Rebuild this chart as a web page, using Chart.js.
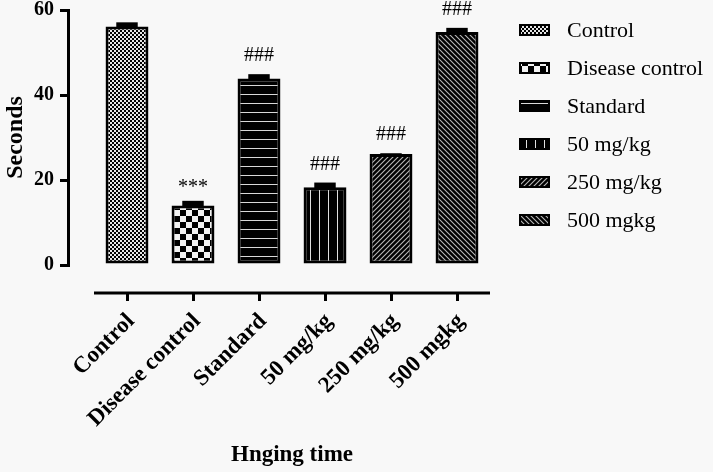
<!DOCTYPE html>
<html><head><meta charset="utf-8">
<script src="https://cdn.jsdelivr.net/npm/chart.js@4/dist/chart.umd.min.js"></script>
<style>html,body{margin:0;padding:0;background:#f8f8f8;} #wrap{width:713px;height:472px;position:relative;}</style>
</head><body><div id="wrap"><canvas id="c" width="713" height="472"></canvas></div>
<script>
const categories = ["Control", "Disease control", "Standard", "50 mg/kg", "250 mg/kg", "500 mgkg"];
const seconds = [56.1, 14.0, 43.9, 18.3, 26.1, 54.8];
const sem = [1.0, 1.1, 1.0, 1.1, 0.2, 1.0];
const significance = ["", "***", "###", "###", "###", "###"];
const yTicks = [0, 20, 40, 60];
const xTitle = "Hnging time";
const yTitle = "Seconds";

const SERIF = '"Liberation Serif", "Times New Roman", serif';

function makePattern(kind) {
  const c = document.createElement('canvas');
  const g = c.getContext('2d');
  let w = 4, h = 4;
  if (kind === 0) { w = 4; h = 4; }
  else if (kind === 1) { w = 12; h = 12; }
  else if (kind === 2) { w = 4; h = 9; }
  else if (kind === 3) { w = 9; h = 4; }
  else { w = 5; h = 5; }
  c.width = w; c.height = h;
  g.fillStyle = '#000'; g.fillRect(0, 0, w, h);
  if (kind === 0) {
    g.fillStyle = '#e6e6e6'; g.fillRect(0, 0, 2, 2); g.fillRect(2, 2, 2, 2);
  } else if (kind === 1) {
    g.fillStyle = '#f2f2f2'; g.fillRect(0, 0, 6, 6); g.fillRect(6, 6, 6, 6);
  } else if (kind === 2) {
    g.fillStyle = '#d8d8d8'; g.fillRect(0, 4, w, 1);
  } else if (kind === 3) {
    g.fillStyle = '#e0e0e0'; g.fillRect(4, 0, 1, h);
  } else {
    g.strokeStyle = '#b8b8b8'; g.lineWidth = 1.1;
    g.beginPath();
    if (kind === 4) {
      g.moveTo(-w, 2 * h); g.lineTo(2 * w, -h);
      g.moveTo(-w, h); g.lineTo(w, -h);
      g.moveTo(0, 2 * h); g.lineTo(2 * w, 0);
    } else {
      g.moveTo(-w, -h); g.lineTo(2 * w, 2 * h);
      g.moveTo(-w, 0); g.lineTo(w, 2 * h);
      g.moveTo(0, -h); g.lineTo(2 * w, h);
    }
    g.stroke();
  }
  return g.createPattern(c, 'repeat');
}
const patterns = categories.map((_, i) => makePattern(i));

const decor = {
  id: 'decor',
  afterDatasetsDraw(chart) {
    const { ctx, scales: { x, y }, chartArea } = chart;
    const meta = chart.getDatasetMeta(0);
    ctx.save();
    meta.data.forEach((bar, i) => {
      const top = y.getPixelForValue(seconds[i]);
      const eTop = y.getPixelForValue(seconds[i] + sem[i]);
      const w = bar.width * 0.5;
      ctx.fillStyle = '#000';
      ctx.fillRect(bar.x - w / 2, eTop, w, top - eTop + 1);
      if (significance[i]) {
        ctx.font = '20px ' + SERIF;
        ctx.textAlign = 'center';
        ctx.textBaseline = 'alphabetic';
        ctx.fillText(significance[i], bar.x, eTop - (significance[i] === '***' ? 8 : 13));
      }
    });
    // offset x axis line
    const ay = chartArea.bottom + 28;
    ctx.strokeStyle = '#000'; ctx.lineWidth = 3; ctx.lineCap = 'butt';
    ctx.beginPath();
    const xl = x.getPixelForValue(-0.5), xr = x.getPixelForValue(categories.length - 0.5);
    ctx.moveTo(xl, ay); ctx.lineTo(xr, ay);
    categories.forEach((_, i) => {
      const px = Math.round(x.getPixelForValue(i)) + 0.5;
      ctx.moveTo(px, ay); ctx.lineTo(px, ay + 8);
    });
    ctx.stroke();
    // x title
    ctx.fillStyle = '#000';
    ctx.font = 'bold 23px ' + SERIF;
    ctx.textAlign = 'center'; ctx.textBaseline = 'middle';
    ctx.fillText(xTitle, (xl + xr) / 2, 455);
    // legend
    const lx = 519, ly0 = 30, step = 38;
    categories.forEach((name, i) => {
      const cy = ly0 + i * step;
      ctx.fillStyle = '#000';
      ctx.fillRect(lx, cy - 6, 31, 12);
      ctx.fillStyle = patterns[i];
      ctx.fillRect(lx + 2, cy - 4, 27, 8);
      ctx.fillStyle = '#000';
      ctx.font = '22px ' + SERIF;
      ctx.textAlign = 'left'; ctx.textBaseline = 'middle';
      ctx.fillText(name, 567, cy + 1);
    });
    ctx.restore();
  }
};

new Chart(document.getElementById('c'), {
  type: 'bar',
  data: {
    datasets: [{
      data: categories.map((c, i) => ({ x: i, y: seconds[i] })),
      backgroundColor: patterns,
      borderColor: '#000',
      borderWidth: 3,
      borderSkipped: false,
      barPercentage: 0.65,
      categoryPercentage: 1
    }]
  },
  options: {
    responsive: false,
    animation: false,
    devicePixelRatio: 1,
    layout: { padding: { top: 10, right: 223, left: 0, bottom: 0 } },
    plugins: { legend: { display: false }, tooltip: { enabled: false } },
    scales: {
      x: {
        type: 'linear',
        offset: false,
        min: -0.894, max: 5.5,
        afterBuildTicks: s => { s.ticks = categories.map((_, i) => ({ value: i })); },
        afterFit: s => { s.height = 207; s.paddingLeft = 0; s.paddingRight = 0; },
        grid: { display: false, offset: false },
        border: { display: false },
        ticks: {
          autoSkip: false, maxRotation: 45, minRotation: 45, padding: 35, labelOffset: 4,
          color: '#000', font: { family: SERIF, size: 23, weight: 'bold' },
          callback: v => categories[v]
        }
      },
      y: {
        min: 0, max: 60,
        afterBuildTicks: s => { s.ticks = yTicks.map(v => ({ value: v })); },
        afterFit: s => { s.width = 68; s.paddingTop = 0; s.paddingBottom = 0; },
        border: { display: true, color: '#000', width: 3 },
        grid: { drawOnChartArea: false, color: '#000', lineWidth: 3, tickLength: 8 },
        ticks: { padding: 6, color: '#000', font: { family: SERIF, size: 20, weight: 'bold' } },
        title: { display: true, text: yTitle, color: '#000', padding: { top: 1, bottom: 0 }, font: { family: SERIF, size: 24, weight: 'bold' } }
      }
    }
  },
  plugins: [decor]
});
</script></body></html>
